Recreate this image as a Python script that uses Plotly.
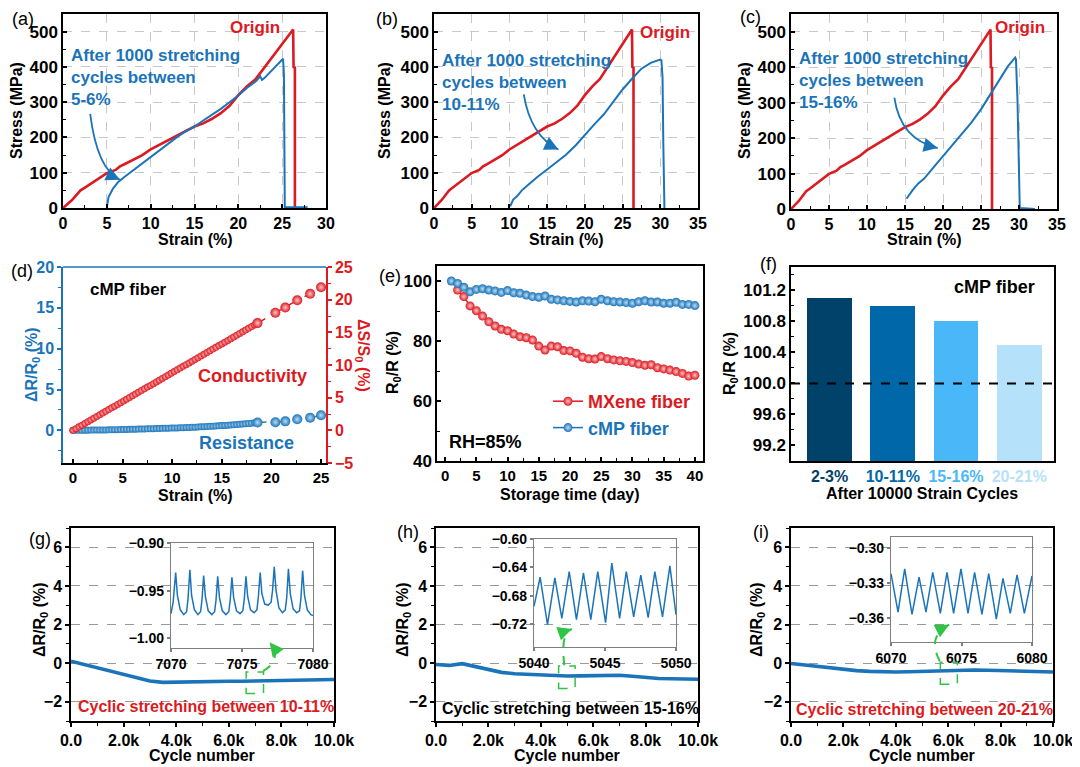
import math
import plotly.graph_objects as go

W, H = 1080, 767          # reference picture size
OFF = 8                   # page body margin of the html page
FW, FH = W - OFF, H - OFF
FONT = "Liberation Sans"
BLUE = "#1b74b9"
RED = "#dc1a22"
GREEN = "#2fc443"
GRID = "#c8c8c8"

# ---------------- (a)-(c) stress-strain ----------------
origin_strain = [0, 0.5, 1, 1.5, 2, 2.5, 3, 4, 5, 6, 6.5, 7, 8, 9, 10, 11, 12, 13, 14, 15, 16, 17,
                 18, 19, 20, 21, 22, 23, 24, 25, 26, 26.25, 26.3, 26.45, 26.45]
origin_stress = [0, 10, 22, 36, 50, 58, 66, 83, 99, 108, 118, 124, 137, 149, 166, 179, 192, 204, 217,
                 231, 240, 253, 269, 290, 320, 345, 366, 399, 432, 465, 496, 506, 400, 398, 0]

a_strain = [5.04, 5.2, 5.7, 6.3, 7, 8, 9, 10, 11, 12, 13, 14, 15, 16, 17, 18, 19, 20, 21, 22, 22.5,
            22.7, 23, 24, 25, 25.1, 25.2, 25.3, 25.4, 27.9]
a_stress = [8, 31, 55, 74, 88, 107, 125, 144, 163, 182, 201, 218, 231, 248, 264, 281, 300, 319, 341,
            359, 373, 363, 369, 394, 418, 423, 380, 0, 2, 2]

b_strain = [10.1, 10.5, 11, 11.65, 12.5, 13.7, 15, 16.3, 17.5, 18.8, 20, 21.25, 22.5, 23.7, 25, 26.2,
            27.5, 28.8, 30, 30.15, 30.3, 30.4, 30.55]
b_stress = [5, 24, 33, 50, 66, 88, 109, 131, 151, 178, 208, 237, 265, 298, 336, 365, 395, 412, 421,
            419, 369, 185, 0]

c_strain = [15.2, 15.55, 16, 16.75, 17.5, 18.7, 20, 21.2, 22.5, 23.7, 25, 26.25, 27.5, 28.55, 29.5,
            29.6, 29.8, 30.0, 30.1, 32.1]
c_stress = [29, 40, 53, 72, 85, 116, 149, 179, 210, 243, 281, 323, 365, 403, 427, 422, 309, 102, 3, 0]

# ---------------- (d) ----------------
d_strain = [0.0, 0.3, 0.6, 0.9, 1.2, 1.5, 1.8, 2.1, 2.4, 2.7, 3.0, 3.3, 3.6, 3.9, 4.2, 4.5, 4.8, 5.1,
            5.4, 5.7, 6.0, 6.3, 6.6, 6.9, 7.2, 7.5, 7.8, 8.1, 8.4, 8.7, 9.0, 9.3, 9.6, 9.9, 10.2, 10.5,
            10.8, 11.1, 11.4, 11.7, 12.0, 12.3, 12.6, 12.9, 13.2, 13.5, 13.8, 14.1, 14.4, 14.7, 15.0,
            15.3, 15.6, 15.9, 16.2, 16.5, 16.8, 17.1, 17.4, 17.7, 18.0, 18.3, 18.6]
d_cond = [0.0, 0.26, 0.53, 0.79, 1.06, 1.32, 1.59, 1.85, 2.12, 2.38, 2.65, 2.91, 3.18, 3.44, 3.70,
          3.97, 4.23, 4.50, 4.76, 5.03, 5.29, 5.56, 5.82, 6.09, 6.35, 6.62, 6.88, 7.14, 7.41, 7.67,
          7.94, 8.20, 8.47, 8.73, 9.00, 9.26, 9.53, 9.79, 10.05, 10.32, 10.58, 10.85, 11.11, 11.38,
          11.64, 11.91, 12.17, 12.44, 12.70, 12.97, 13.23, 13.49, 13.76, 14.02, 14.29, 14.55, 14.82,
          15.08, 15.35, 15.61, 15.88, 16.14, 16.41]
d_res = [0.00, 0.00, 0.01, 0.01, 0.02, 0.02, 0.03, 0.03, 0.04, 0.04, 0.05, 0.05, 0.06, 0.07, 0.08,
         0.08, 0.09, 0.10, 0.11, 0.12, 0.13, 0.14, 0.15, 0.16, 0.17, 0.18, 0.19, 0.20, 0.21, 0.22,
         0.24, 0.25, 0.26, 0.28, 0.29, 0.30, 0.32, 0.33, 0.35, 0.36, 0.38, 0.39, 0.41, 0.43, 0.45,
         0.47, 0.49, 0.51, 0.53, 0.55, 0.58, 0.60, 0.63, 0.65, 0.68, 0.71, 0.74, 0.77, 0.80, 0.84,
         0.88, 0.92, 0.96]
d_strain_sparse = [20.4, 21.4, 22.6, 23.9, 25.0]
d_cond_sparse = [18.0, 18.8, 19.9, 20.9, 21.9]
d_res_sparse = [1.0, 1.1, 1.35, 1.55, 1.85]

# ---------------- (e) ----------------
e_days_mx = [2, 3, 4, 5, 6, 7, 8, 9, 10, 11, 12, 13, 14, 15, 16, 17, 18, 19, 20, 21, 22, 23, 24, 25,
             26, 27, 28, 29, 30, 31, 32, 33, 34, 35, 36, 37, 38, 39, 40]
e_mxene = [97.0, 94.8, 91.7, 90.1, 88.3, 86.4, 85.0, 83.9, 83.4, 82.3, 81.4, 81.1, 80.3, 78.3, 77.0,
           78.3, 78.1, 76.8, 76.7, 75.9, 74.6, 74.1, 74.0, 74.8, 74.1, 73.7, 73.4, 73.2, 72.8, 72.3,
           71.9, 72.1, 71.1, 70.7, 70.3, 69.8, 69.2, 68.3, 68.6]
e_days_cmp = [1, 2, 3, 4, 5, 6, 7, 8, 9, 10, 11, 12, 13, 14, 15, 16, 17, 18, 19, 20, 21, 22, 23, 24,
              25, 26, 27, 28, 29, 30, 31, 32, 33, 34, 35, 36, 37, 38, 39, 40]
e_cmp = [100.0, 99.2, 97.9, 96.4, 97.2, 97.4, 97.0, 96.7, 96.2, 96.8, 96.1, 95.9, 95.3, 94.8, 94.6,
         95.0, 93.9, 93.7, 93.4, 93.2, 93.0, 93.4, 93.3, 93.1, 93.9, 93.4, 93.1, 93.0, 92.8, 92.6,
         93.1, 93.4, 93.0, 93.0, 92.6, 92.6, 92.9, 92.2, 92.2, 91.8]

# ---------------- (f) ----------------
f_labels = ["2-3%", "10-11%", "15-16%", "20-21%"]
f_values = [101.1, 101.0, 100.8, 100.5]
f_colors = ["#01426a", "#0068a8", "#4ab8f8", "#b5e1fb"]

# ---------------- (g)-(i) ----------------
cyc_x = [0, 500, 1000, 1500, 2000, 2500, 3000, 3500, 4000, 4500, 5000, 5500, 6000, 6500, 7000, 7500,
         8000, 8500, 9000, 9500, 10000]
g_main = [0.10, -0.07, -0.24, -0.41, -0.58, -0.76, -0.93, -1.00, -0.98, -0.97, -0.95, -0.95, -0.94,
          -0.94, -0.93, -0.93, -0.92, -0.91, -0.90, -0.88, -0.85]
h_main = [-0.07, -0.12, -0.03, -0.18, -0.33, -0.48, -0.55, -0.58, -0.62, -0.64, -0.67, -0.66, -0.64,
          -0.62, -0.63, -0.68, -0.76, -0.80, -0.81, -0.83, -0.84]
i_main = [-0.02, -0.10, -0.19, -0.26, -0.33, -0.39, -0.43, -0.46, -0.46, -0.45, -0.43, -0.40, -0.37,
          -0.36, -0.36, -0.37, -0.38, -0.39, -0.40, -0.43, -0.46]

gi_x = [7070.00, 7070.15, 7070.33, 7070.45, 7070.65, 7070.90, 7071.10, 7071.20, 7071.33, 7071.45,
        7071.65, 7071.90, 7072.08, 7072.18, 7072.30, 7072.42, 7072.62, 7072.88, 7073.07, 7073.17,
        7073.29, 7073.41, 7073.61, 7073.87, 7074.07, 7074.17, 7074.29, 7074.41, 7074.61, 7074.86,
        7075.06, 7075.16, 7075.28, 7075.40, 7075.60, 7075.85, 7076.05, 7076.15, 7076.28, 7076.40,
        7076.60, 7076.85, 7077.05, 7077.15, 7077.27, 7077.40, 7077.60, 7077.85, 7078.05, 7078.15,
        7078.27, 7078.40, 7078.60, 7078.85, 7079.05, 7079.15, 7079.27, 7079.40, 7079.60, 7079.85,
        7080.00]
gi_y = [-0.974, -0.962, -0.931, -0.955, -0.970, -0.975, -0.972, -0.958, -0.928, -0.955, -0.970,
        -0.975, -0.972, -0.960, -0.934, -0.956, -0.971, -0.975, -0.972, -0.960, -0.935, -0.957,
        -0.971, -0.975, -0.972, -0.960, -0.936, -0.957, -0.971, -0.974, -0.971, -0.959, -0.935,
        -0.956, -0.970, -0.973, -0.970, -0.957, -0.931, -0.953, -0.964, -0.965, -0.962, -0.950,
        -0.925, -0.950, -0.968, -0.973, -0.970, -0.957, -0.927, -0.953, -0.969, -0.973, -0.971,
        -0.958, -0.929, -0.955, -0.970, -0.975, -0.976]

hi_x = [5040.00, 5040.43, 5040.95, 5041.47, 5041.96, 5042.48, 5042.99, 5043.48, 5044.00, 5044.49,
        5045.04, 5045.48, 5046.03, 5046.50, 5047.02, 5047.52, 5048.04, 5048.51, 5049.05, 5049.57,
        5050.00]
hi_y = [-0.695, -0.654, -0.721, -0.655, -0.712, -0.646, -0.714, -0.648, -0.714, -0.646, -0.718,
        -0.634, -0.712, -0.646, -0.710, -0.651, -0.711, -0.646, -0.710, -0.638, -0.707]

ii_x = [6070.00, 6070.50, 6070.97, 6071.49, 6071.99, 6072.48, 6072.96, 6073.50, 6073.97, 6074.44,
        6074.96, 6075.46, 6075.93, 6076.45, 6076.93, 6077.47, 6077.94, 6078.46, 6078.94, 6079.46,
        6080.00]
ii_y = [-0.322, -0.355, -0.318, -0.357, -0.325, -0.355, -0.321, -0.356, -0.321, -0.356, -0.318,
        -0.356, -0.321, -0.357, -0.322, -0.361, -0.326, -0.356, -0.323, -0.356, -0.324]

# ================= layout helpers =================
def xdom(p0, p1):
    return [(p0 - OFF) / FW, (p1 - OFF) / FW]


def ydom(top, bot):
    return [1 - (bot - OFF) / FH, 1 - (top - OFF) / FH]


def tfont(size=15, color="black"):
    return dict(family=FONT, size=size, color=color, weight="bold")


PXU = {}  # px per data unit for each axis (used for arrow-head direction)


def ax(name, p0, p1, anchor, rng, vertical=False, **kw):
    dom = ydom(p0, p1) if vertical else xdom(p0, p1)
    PXU[name] = abs(p1 - p0) / (rng[1] - rng[0])
    d = dict(domain=dom, anchor=anchor, range=rng, showline=True, linecolor="black", linewidth=1.5,
             mirror=True, ticks="outside", ticklen=4, tickwidth=1.5, tickcolor="black",
             tickfont=tfont(), showgrid=False, zeroline=False, layer="above traces", automargin=False)
    d.update(kw)
    key = ("yaxis" if vertical else "xaxis") + name[1:]
    L[key] = d


def minor(dt, color="black", ticks="outside"):
    return dict(ticks=ticks, ticklen=3, tickwidth=1.2, tickcolor=color, dtick=dt, showgrid=False)


fig = go.Figure()
L = {}

grid = dict(showgrid=True, gridcolor=GRID, griddash="dash", gridwidth=1)
# (a) (b) (c)
boxes_abc = [(63, 326, 14, 208, 30), (434, 698, 14, 208, 35), (791, 1057, 14, 209, 35)]
for k, (x0, x1, t, b, xm) in enumerate(boxes_abc):
    n = "" if k == 0 else str(k + 1)
    ax("x" + n, x0, x1, "y" + n, [0, xm], dtick=5, ticks="inside", minor=minor(2.5, ticks="inside"),
       tickfont=tfont(16), **grid)
    ax("y" + n, t, b, "x" + n, [0, 550], vertical=True, dtick=100, ticks="inside",
       minor=minor(50, ticks="inside"), tickfont=tfont(17), **grid)

# (d)
ax("x4", 63, 326, "y4", [-1, 25.5], dtick=5, ticks="inside", minor=minor(2.5, ticks="inside"),
   mirror=False, tickfont=tfont(15))
ax("y4", 267, 463, "x4", [-4, 20], vertical=True, tickvals=[0, 5, 10, 15, 20], minor=minor(2.5, BLUE),
   linecolor=BLUE, tickcolor=BLUE, tickfont=tfont(16, BLUE), mirror=False)
ax("y5", 267, 463, "x4", [-5, 25], vertical=True, dtick=5, minor=minor(2.5, RED), overlaying="y4",
   side="right", linecolor=RED, tickcolor=RED, tickfont=tfont(16, RED), mirror=False)
# (e)
ax("x5", 437, 703, "y6", [-1.3, 41.3], dtick=5, ticks="inside", minor=minor(2.5, ticks="inside"),
   tickfont=tfont(15))
ax("y6", 266, 461, "x5", [40, 105], vertical=True, tickvals=[40, 60, 80, 100],
   minor=minor(10, ticks="inside"), ticks="inside", tickfont=tfont(17))
# (f)
ax("x6", 791, 1054, "y7", [-0.61, 3.55], ticks="", tickvals=[0, 1, 2, 3],
   ticktext=['<span style="color:%s">%s</span>' % (c, s) for c, s in zip(f_colors, f_labels)],
   tickfont=tfont(16))
ax("y7", 267, 461, "x6", [99.0, 101.5], vertical=True, tickvals=[99.2, 99.6, 100.0, 100.4, 100.8, 101.2],
   tickformat=".1f", minor=minor(0.2, ticks="inside"), ticks="inside", tickfont=tfont(17))
# (g) (h) (i)
cyc_ticks = [0, 2000, 4000, 6000, 8000, 10000]
cyc_text = ["0.0", "2.0k", "4.0k", "6.0k", "8.0k", "10.0k"]
boxes_ghi = [(71, 334), (436, 698), (791, 1053)]
for k, (x0, x1) in enumerate(boxes_ghi):
    xn, yn = 7 + k, 8 + k
    ax("x%d" % xn, x0, x1, "y%d" % yn, [0, 10000], tickvals=cyc_ticks, ticktext=cyc_text,
       minor=minor(1000), tickfont=tfont(16))
    ax("y%d" % yn, 528, 721, "x%d" % xn, [-3, 7], vertical=True, tickvals=[-2, 0, 2, 4, 6],
       minor=dict(ticks="outside", ticklen=3, tickwidth=1.2, tickcolor="black", dtick=1, tick0=1),
       showgrid=True, gridcolor="#9a9a9a", griddash="dash", gridwidth=1, tickfont=tfont(16))
# insets
insets = [
    ((171, 313, 543, 648), [7070, 7080], [-1.01, -0.90], [7070, 7075, 7080], [-1.00, -0.95, -0.90]),
    ((534, 676, 539, 647), [5040, 5050], [-0.7525, -0.60], [5040, 5045, 5050], [-0.72, -0.68, -0.64, -0.60]),
    ((891, 1032, 537, 642), [6070, 6080], [-0.3806, -0.2906], [6070, 6075, 6080], [-0.36, -0.33, -0.30]),
]
for k, ((x0, x1, t, b), xr, yr, xt, yt) in enumerate(insets):
    xn, yn = 10 + k, 11 + k
    ax("x%d" % xn, x0, x1, "y%d" % yn, xr, tickvals=xt, linecolor="#7f7f7f", tickcolor="#7f7f7f",
       linewidth=1.2, ticklen=3, tickfont=tfont(14))
    ax("y%d" % yn, t, b, "x%d" % xn, yr, vertical=True, tickvals=yt, tickformat=".2f",
       linecolor="#7f7f7f", tickcolor="#7f7f7f", linewidth=1.2, ticklen=3, tickfont=tfont(14))

# ================= traces =================
def line(x, y, xa, ya, color, width=2.2, **kw):
    fig.add_trace(go.Scatter(x=x, y=y, xaxis=xa, yaxis=ya, mode="lines", showlegend=False,
                             line=dict(color=color, width=width), hoverinfo="skip", **kw))


for xa, ya, bx, by in [("x", "y", a_strain, a_stress), ("x2", "y2", b_strain, b_stress),
                       ("x3", "y3", c_strain, c_stress)]:
    line(origin_strain, origin_stress, xa, ya, RED, 2.6)
    line(bx, by, xa, ya, BLUE, 2.0)


def balls(color, center, size):
    return dict(color=color, size=size, line=dict(width=0), gradient=dict(type="radial", color=center))


# (d)
fig.add_trace(go.Scatter(x=d_strain, y=d_res, xaxis="x4", yaxis="y4", mode="markers", showlegend=False,
                         marker=balls(BLUE, "#b9dcf3", 7)))
fig.add_trace(go.Scatter(x=[d_strain[-1]] + d_strain_sparse, y=[d_res[-1]] + d_res_sparse, xaxis="x4",
                         yaxis="y4", mode="lines+markers", showlegend=False,
                         line=dict(color="#2a8a7a", width=1.5, dash="dash"), marker=balls(BLUE, "#b9dcf3", 10)))
fig.add_trace(go.Scatter(x=d_strain, y=d_cond, xaxis="x4", yaxis="y5", mode="markers", showlegend=False,
                         marker=balls(RED, "#ffc4c4", 7)))
fig.add_trace(go.Scatter(x=[d_strain[-1]] + d_strain_sparse, y=[d_cond[-1]] + d_cond_sparse, xaxis="x4",
                         yaxis="y5", mode="lines+markers", showlegend=False,
                         line=dict(color=RED, width=1.5, dash="dash"), marker=balls(RED, "#ffc4c4", 10)))

# (e)
fig.add_trace(go.Scatter(x=e_days_mx, y=e_mxene, xaxis="x5", yaxis="y6", mode="lines+markers",
                         name='<span style="color:%s">MXene fiber</span>' % RED,
                         line=dict(color=RED, width=1.5), marker=balls(RED, "#ffc4c4", 9)))
fig.add_trace(go.Scatter(x=e_days_cmp, y=e_cmp, xaxis="x5", yaxis="y6", mode="lines+markers",
                         name='<span style="color:%s">cMP fiber</span>' % BLUE,
                         line=dict(color=BLUE, width=1.5), marker=balls(BLUE, "#b9dcf3", 9)))

# (f)
fig.add_trace(go.Bar(x=[0, 1, 2, 3], y=f_values, xaxis="x6", yaxis="y7", width=0.71, showlegend=False,
                     marker=dict(color=f_colors, line=dict(width=0))))

# (g)-(i)
for k, ys in enumerate([g_main, h_main, i_main]):
    line(cyc_x, ys, "x%d" % (7 + k), "y%d" % (8 + k), BLUE, 3.6)
for k, (xs, ys) in enumerate([(gi_x, gi_y), (hi_x, hi_y), (ii_x, ii_y)]):
    line(xs, ys, "x%d" % (10 + k), "y%d" % (11 + k), BLUE, 1.5)

# ================= shapes / annotations =================
shapes = []
anns = []


def text(t, x, y, size=17, color="black", xanchor="center", yanchor="middle", angle=0, bold=True,
         align="center"):
    anns.append(dict(text=t, x=(x - OFF) / FW, y=1 - (y - OFF) / FH, xref="paper", yref="paper",
                     showarrow=False, xanchor=xanchor, yanchor=yanchor, textangle=angle, align=align,
                     font=dict(family=FONT, size=size, color=color, weight="bold" if bold else "normal")))


def curved_arrow(xa, ya, p0, c, p1, color, dash="solid", width=1.8):
    shapes.append(dict(type="path", xref=xa, yref=ya,
                       path="M %g,%g Q %g,%g %g,%g" % (p0[0], p0[1], c[0], c[1], p1[0], p1[1]),
                       line=dict(color=color, width=width, dash=dash)))
    dxp = (p1[0] - c[0]) * PXU[xa]
    dyp = -(p1[1] - c[1]) * PXU[ya]
    n = math.hypot(dxp, dyp)
    tail = 14.0
    anns.append(dict(x=p1[0], y=p1[1], ax=-dxp / n * tail, ay=-dyp / n * tail, xref=xa, yref=ya,
                     text="", showarrow=True, arrowhead=2, arrowsize=1.4, arrowwidth=2,
                     arrowcolor=color))


# arrows (a)-(c)
curved_arrow("x", "y", (3.1, 267), (3.9, 110), (6.5, 80), BLUE)
curved_arrow("x2", "y2", (11.9, 322), (12.8, 204), (16.5, 166), BLUE)
curved_arrow("x3", "y3", (13.6, 314), (14.4, 196), (19.3, 172), BLUE)

# green boxes and arrows (g)-(i)
for xa, ya, (bx0, bx1, by0, by1) in [("x7", "y8", (6660, 7320, -1.58, -0.46)),
                                      ("x8", "y9", (4680, 5310, -1.32, -0.15)),
                                      ("x9", "y10", (5700, 6350, -1.10, 0.05))]:
    shapes.append(dict(type="rect", xref=xa, yref=ya, x0=bx0, x1=bx1, y0=by0, y1=by1,
                       line=dict(color=GREEN, width=1.5, dash="dash")))
curved_arrow("x7", "y8", (7300, -0.42), (8060, 0.19), (7550, 1.08), GREEN, "dash", 2)
curved_arrow("x8", "y9", (4900, -0.12), (4740, 1.56), (5185, 1.77), GREEN, "dash", 2)
curved_arrow("x9", "y10", (5680, 0.10), (5170, 1.39), (6040, 1.99), GREEN, "dash", 2)

# dashed 100% line in (f)
shapes.append(dict(type="line", xref="x6 domain", yref="y7", x0=0, x1=1, y0=100, y1=100,
                   line=dict(color="black", width=2, dash="dash")))
# top frame of (d)
shapes.append(dict(type="line", xref="x4 domain", yref="y4 domain", x0=0, x1=1, y0=1, y1=1,
                   line=dict(color=BLUE, width=1.5)))

# panel labels
for t, x, y in [("(a)", 23, 19), ("(b)", 387, 19), ("(c)", 750, 17), ("(d)", 22, 271), ("(e)", 390, 276),
                ("(f)", 768, 264), ("(g)", 40, 539), ("(h)", 408, 532), ("(i)", 761, 532)]:
    text(t, x, y, 18, bold=False)

# axis titles
for x, xc in [(17, 195), (385, 566), (745, 924)]:
    text("Stress (MPa)", x, 111, 16, angle=-90)
    text("Strain (%)", xc, 239, 16)
text("ΔR/R<sub>0</sub> (%)", 33, 365, 16, BLUE, angle=-90)
text("ΔS/S<sub>0</sub> (%)", 362, 355, 16, RED, angle=90)
text("Strain (%)", 195, 495, 16)
text("R<sub>0</sub>/R (%)", 393, 363, 16, angle=-90)
text("Storage time (day)", 570, 494, 16)
text("R<sub>0</sub>/R (%)", 730, 364, 16, angle=-90)
text("After 10000 Strain Cycles", 922, 493, 16)
for x, xc in [(40, 202), (403, 567), (757, 922)]:
    text("ΔR/R<sub>0</sub> (%)", x, 620, 16, angle=-90)
    text("Cycle number", xc, 755, 16)

# in-panel texts
text("Origin", 255, 28, 17, RED)
text("Origin", 665, 32, 17, RED)
text("Origin", 1020, 28, 17, RED)
text("After 1000 stretching<br>cycles between<br>5-6%", 69, 77, 17, BLUE, xanchor="left", align="left")
text("After 1000 stretching<br>cycles between<br>10-11%", 440, 82, 17, BLUE, xanchor="left", align="left")
text("After 1000 stretching<br>cycles between<br>15-16%", 797, 80, 17, BLUE, xanchor="left", align="left")
text("cMP fiber", 88, 289, 17, xanchor="left")
text("Conductivity", 252, 376, 18, RED)
text("Resistance", 246, 443, 18, BLUE)
text("RH=85%", 447, 442, 18, xanchor="left")
text("cMP fiber", 1037, 287, 18, xanchor="right")
text("Cyclic stretching between 10-11%", 76, 706, 16, RED, xanchor="left")
text("Cyclic stretching between 15-16%", 440, 708, 16, xanchor="left")
text("Cyclic stretching between 20-21%", 794, 709, 16, RED, xanchor="left")

fig.update_layout(
    width=FW, height=FH, margin=dict(l=0, r=0, t=0, b=0, autoexpand=False), paper_bgcolor="white",
    plot_bgcolor="rgba(0,0,0,0)", shapes=shapes, annotations=anns, bargap=0,
    legend=dict(x=(548 - OFF) / FW, y=1 - (383 - OFF) / FH, xanchor="left", yanchor="top",
                bgcolor="rgba(0,0,0,0)", font=dict(family=FONT, size=18, weight="bold"), itemwidth=30,
                tracegroupgap=0, traceorder="normal"),
    **L,
)
fig.write_html("out.html")
